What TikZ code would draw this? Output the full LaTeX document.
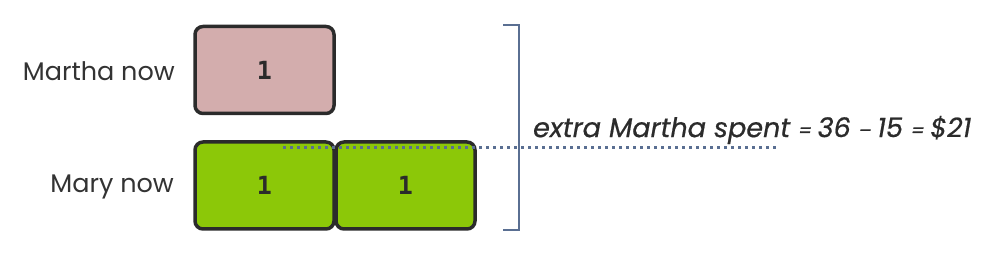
\documentclass[tikz,border=0pt]{standalone}
\usepackage{fontspec}
\setmainfont{Poppins}
\newfontfamily\numfont{DejaVu Sans Mono}
\newfontfamily\eqfont[FakeBold=0.6]{Poppins}
\definecolor{pinkfill}{HTML}{D3ADAD}
\definecolor{greenfill}{HTML}{8CC808}
\definecolor{edgegray}{HTML}{2B2B2B}
\definecolor{bracketblue}{HTML}{5A6F92}
\definecolor{txtgray}{HTML}{333333}
\begin{document}
\begin{tikzpicture}[x=1pt,y=-1pt,
  unitbox/.style={draw=edgegray, line width=3.5pt, rounded corners=8pt, minimum width=139pt, minimum height=87pt, inner sep=0pt, font=\numfont\bfseries\fontsize{25}{25}\selectfont, text=edgegray},
  rowlabel/.style={anchor=east, font=\fontsize{25.5}{26}\selectfont, text=txtgray, inner sep=0pt},
  brace/.style={draw=bracketblue, line width=2pt},
  dotline/.style={draw=bracketblue, line width=3pt, dash pattern=on 3pt off 4pt}]
\useasboundingbox (0,0) rectangle (993,256);
\node[unitbox, fill=pinkfill] (m1) at (264.5,70) {1};
\node[unitbox, fill=greenfill] (y1) at (264.5,185.5) {1};
\node[unitbox, fill=greenfill] (y2) at (405.5,185.5) {1};
\node[rowlabel] (lm) at (175,71) {Martha now};
\node[rowlabel] (ly) at (174,187) {Mary now};
\coordinate (bt) at (503,25);
\coordinate (bb) at (503,230);
\draw[brace] (bt) -- ++(16,0) |- (bb);
\coordinate (ds) at (283,148);
\coordinate (de) at (776,148);
\draw[dotline] (ds) -- (de);
\node[font=\eqfont\itshape\fontsize{27}{27}\selectfont, text=edgegray, anchor=west, inner sep=0pt] (eq) at (533,130) {extra Martha spent \fontsize{19}{19}\selectfont= \fontsize{27}{27}\selectfont36 \fontsize{19}{19}\selectfont– \fontsize{27}{27}\selectfont15 \fontsize{19}{19}\selectfont= \fontsize{27}{27}\selectfont\$21};
\end{tikzpicture}
\end{document}
